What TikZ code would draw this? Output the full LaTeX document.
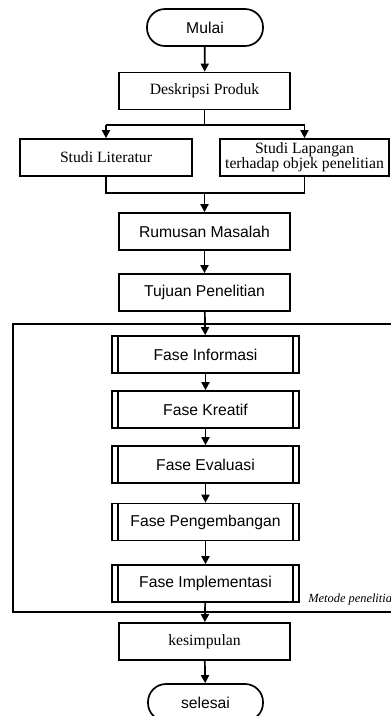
\documentclass[tikz,border=0pt]{standalone}
\usepackage{fontspec}
\setmainfont{Liberation Serif}
\setsansfont{Liberation Sans}
\usetikzlibrary{arrows.meta,calc}
\begin{document}
\begin{tikzpicture}[x=1pt,y=1pt,line width=1.7pt,
  box/.style={draw, minimum width=171pt, minimum height=37pt, inner sep=0pt, align=center,
    font=\fontsize{15.7}{15.7}\selectfont},
  sbox/.style={box, font=\sffamily\fontsize{15.7}{15.7}\selectfont},
  fase/.style={sbox, minimum width=187pt},
  term/.style={draw, rounded corners=18pt, minimum width=116pt, minimum height=37pt, inner sep=0pt,
    font=\sffamily\fontsize{15.7}{15.7}\selectfont},
  arr/.style={-{Triangle[length=8pt,width=8pt]}}
]
\useasboundingbox (0,0) rectangle (391,-716);
\clip (0,0) rectangle (391,-716);

\node[term] (mulai) at (205,-27.5) {Mulai};
\node[box] (desk) at (204.5,-91) {Deskripsi Produk};
\node[box, minimum width=172pt] (lit) at (106,-157.5) {Studi Literatur};
\node[box, minimum width=169pt, font=\fontsize{15.7}{15}\selectfont] (lap) at (304.5,-157.5) {Studi Lapangan\\terhadap objek penelitian};
\node[sbox] (rum) at (204.5,-231.5) {Rumusan Masalah};
\node[sbox] (tuj) at (204.5,-292.5) {Tujuan Penelitian};

\node[draw, minimum width=408pt, minimum height=288pt, anchor=north west, inner sep=0pt] (frame) at (12,-323) {};

\node[fase] (f1) at (205.5,-354.5) {Fase Informasi};
\node[fase] (f2) at (205.5,-409.5) {Fase Kreatif};
\node[fase] (f3) at (205.5,-464.5) {Fase Evaluasi};
\node[fase] (f4) at (205.5,-522) {Fase Pengembangan};
\node[fase] (f5) at (205.5,-583.5) {Fase Implementasi};
\foreach \n in {f1,f2,f3,f4,f5}{
  \draw ([xshift=7pt]\n.north west) -- ([xshift=7pt]\n.south west);
  \draw ([xshift=-7pt]\n.north east) -- ([xshift=-7pt]\n.south east);
}
\node[anchor=base west, inner sep=0pt, font=\itshape\fontsize{12.4}{12.4}\selectfont] (met) at (307.5,-602) {Metode penelitian};

\node[box] (kes) at (204.5,-641.5) {kesimpulan};
\node[term, minimum width=115pt] (sel) at (205.5,-702.5) {selesai};

\draw[arr] (mulai) -- (desk);
\draw (desk.south) -- ++(0,-14.5) coordinate (sp);
\draw (sp -| lit.north) -- (sp -| lap.north);
\draw[arr] (sp -| lit.north) -- (lit.north);
\draw[arr] (sp -| lap.north) -- (lap.north);
\coordinate (mg) at ($(lit.south)+(0,-16)$);
\draw (lit.south) -- (mg) -- (mg -| lap.south) -- (lap.south);
\draw[arr] (mg -| rum.north) -- (rum.north);
\draw[arr] (rum) -- (tuj);
\draw[arr] (tuj) -- (f1);
\draw[arr] (f1) -- (f2);
\draw[arr] (f2) -- (f3);
\draw[arr] (f3) -- (f4);
\draw[arr] (f4) -- (f5);
\draw[arr] (f5) -- (kes);
\draw[arr] (kes) -- (sel);
\end{tikzpicture}
\end{document}
